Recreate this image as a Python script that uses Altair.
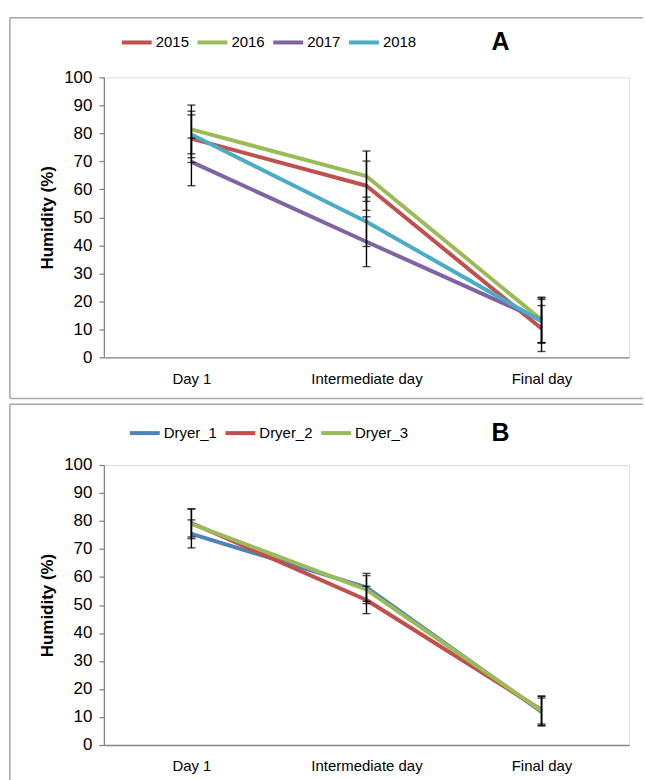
import altair as alt
import pandas as pd

# ---------------- data ----------------
days = ["Day 1", "Intermediate day", "Final day"]

years = ["2015", "2016", "2017", "2018"]
year_colors = ["#C0504D", "#9BBB59", "#8064A2", "#4BACC6"]
hum_2015 = [78.1, 61.3, 10.3]
hum_2016 = [81.4, 64.7, 13.4]
hum_2017 = [69.8, 41.3, 13.2]
hum_2018 = [79.6, 48.4, 12.9]
sd_2015 = [8.5, 8.8, 8.2]
sd_2016 = [8.7, 9.0, 8.1]
sd_2017 = [8.5, 8.9, 8.0]
sd_2018 = [8.3, 8.8, 7.8]

dryers = ["Dryer_1", "Dryer_2", "Dryer_3"]
dryer_colors = ["#4F81BD", "#C0504D", "#9BBB59"]
hum_dryer1 = [75.4, 56.3, 11.8]
hum_dryer2 = [79.3, 51.8, 12.5]
hum_dryer3 = [79.0, 55.5, 12.2]
sd_dryer1 = [5.0, 5.0, 5.0]
sd_dryer2 = [5.0, 4.9, 5.0]
sd_dryer3 = [5.3, 5.0, 5.2]


def long_table(names, values, sds):
    rows = []
    for name, vals, errs in zip(names, values, sds):
        for d, v, e in zip(days, vals, errs):
            rows.append({"day": d, "series": name, "value": v,
                         "lo": v - e, "hi": v + e})
    return pd.DataFrame(rows)


df_a = long_table(years, [hum_2015, hum_2016, hum_2017, hum_2018],
                  [sd_2015, sd_2016, sd_2017, sd_2018])
df_b = long_table(dryers, [hum_dryer1, hum_dryer2, hum_dryer3],
                  [sd_dryer1, sd_dryer2, sd_dryer3])

FONT = "Liberation Sans"
GREY = "#868686"
BORDER = "#A6A6A6"
W, H = 527, 281
TITLE = "Humidity (%)"

x_enc = alt.X("day:N", sort=days, title=None,
              scale=alt.Scale(type="point", padding=0.5))
y_scale = alt.Scale(domain=[0, 100], nice=False, zero=True)
y_axis = alt.Axis(values=list(range(0, 101, 10)))


def panel(df, names, colors, legend_x, legend_y, letter, letter_y,
          top_y, bottom_y, left_bottom):
    base = alt.Chart(df)
    lines = base.mark_line(strokeWidth=4, strokeJoin="round").encode(
        x=x_enc,
        y=alt.Y("value:Q", scale=y_scale, axis=y_axis, title=TITLE),
        color=alt.Color("series:N", sort=names,
                        scale=alt.Scale(domain=names, range=colors),
                        legend=alt.Legend(orient="none", legendX=legend_x,
                                          legendY=legend_y, direction="horizontal",
                                          title=None, symbolType="stroke",
                                          symbolSize=900, symbolStrokeWidth=4,
                                          labelFontSize=15, labelFont=FONT,
                                          labelColor="black", labelOffset=2,
                                          columnPadding=0)),
        order=alt.Order("day_idx:Q"),
    ).transform_calculate(day_idx="indexof(%s, datum.day)" % str(days))
    err = base.mark_rule(color="black", strokeWidth=1.4).encode(
        x=x_enc,
        y=alt.Y("lo:Q", scale=y_scale, axis=y_axis, title=TITLE),
        y2="hi:Q",
    )
    cap_lo = base.mark_tick(color="black", thickness=1.4, size=8,
                            orient="horizontal").encode(
        x=x_enc,
        y=alt.Y("lo:Q", scale=y_scale, axis=y_axis, title=TITLE),
    )
    cap_hi = base.mark_tick(color="black", thickness=1.4, size=8,
                            orient="horizontal").encode(
        x=x_enc,
        y=alt.Y("hi:Q", scale=y_scale, axis=y_axis, title=TITLE),
    )
    one = alt.Data(values=[{}])
    letter_mark = alt.Chart(one).mark_text(fontSize=25, fontWeight="bold",
                                           font=FONT, color="black",
                                           align="center", baseline="middle").encode(
        x=alt.value(398), y=alt.value(letter_y), text=alt.value(letter))
    layers = [lines, err, cap_lo, cap_hi, letter_mark]
    # panel frame
    layers.append(alt.Chart(one).mark_rule(color=BORDER, strokeWidth=1.5).encode(
        x=alt.value(-94.3), x2=alt.value(541), y=alt.value(top_y), y2=alt.value(top_y)))
    layers.append(alt.Chart(one).mark_rule(color=BORDER, strokeWidth=1.5).encode(
        x=alt.value(-94.3), x2=alt.value(-94.3), y=alt.value(top_y), y2=alt.value(left_bottom)))
    if bottom_y is not None:
        layers.append(alt.Chart(one).mark_rule(color=BORDER, strokeWidth=1.5).encode(
            x=alt.value(-94.3), x2=alt.value(541), y=alt.value(bottom_y), y2=alt.value(bottom_y)))
    return alt.layer(*layers).properties(width=W, height=H)


panel_a = panel(df_a, years, year_colors, 16, -52, "A", -35.7, -59.7, 322.3, 322.3)
panel_b = panel(df_b, dryers, dryer_colors, 24, -49, "B", -31.7, -61, None, 316.5)

chart = alt.vconcat(panel_a, panel_b, spacing=2).resolve_scale(
    color="independent").resolve_legend(color="independent").properties(
    padding={"left": 8.25, "top": 15.25, "right": 0, "bottom": 0}
).configure_view(stroke=None).configure(background="white").configure_axisX(
    labelAngle=0, ticks=False, labelPadding=14, labelFontSize=15, labelFont=FONT,
    labelColor="black", domainColor=GREY, domainWidth=1.3, grid=False
).configure_axisY(
    grid=False, tickSize=5, tickColor=GREY, tickWidth=1.3, domainColor=GREY,
    domainWidth=1.3, labelFontSize=17, labelFont=FONT, labelColor="black",
    labelPadding=7, labelOverlap=False, titleFontSize=17, titleFont=FONT,
    titleFontWeight="bold", titleColor="black", titlePadding=7
)

chart.save("out.html", embed_options={"renderer": "svg", "actions": False})
